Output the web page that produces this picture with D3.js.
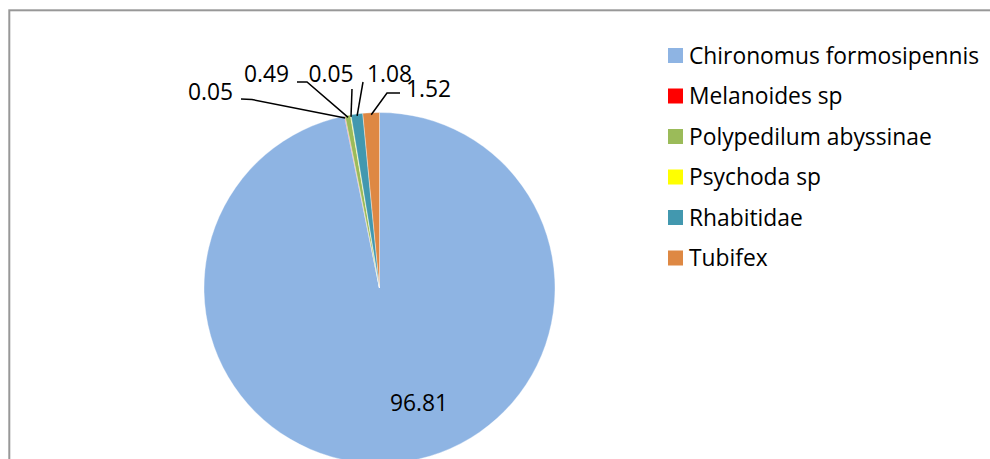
<!DOCTYPE html>
<html>
<head>
<meta charset="utf-8">
<script src="https://cdn.jsdelivr.net/npm/d3@7"></script>
<style>
  html, body { margin: 0; padding: 0; background: #fff; }
  svg { display: block; }
  text { font-family: "Open Sans", Lato, sans-serif; fill: #000; font-variant-ligatures: none; }
</style>
</head>
<body>
<svg id="chart" width="990" height="459"></svg>
<script>
// ---- data ----
const categories = ["Chironomus formosipennis", "Melanoides sp", "Polypedilum abyssinae", "Psychoda sp", "Rhabitidae", "Tubifex"];
const values = [96.81, 0.05, 0.49, 0.05, 1.08, 1.52];
const valueLabels = ["96.81", "0.05", "0.49", "0.05", "1.08", "1.52"];
const colors = ["#8EB4E3", "#FF0000", "#9BBB59", "#FFFF00", "#4298AF", "#DE8843"];

// ---- layout (label placement, not data) ----
const W = 990, H = 459;
const cx = 379.5, cy = 288, R = 175.5;
const fontSize = 22.8;
// label anchor (text center x, baseline y) and leader elbow points
const labelLayout = [
  { x: 419, y: 411, leader: null },
  { x: 210.5, y: 100, leader: [[241, 99], [252, 99.5]] },
  { x: 266.5, y: 82, leader: [[297, 82], [307, 82]] },
  { x: 331, y: 82, leader: [[352, 89]] },
  { x: 389.5, y: 82, leader: [[363, 82]] },
  { x: 428.5, y: 97, leader: [[400, 93], [387, 93]] }
];

const svg = d3.select("#chart");

// chart border
svg.append("rect")
  .attr("x", 9.3).attr("y", 10.3)
  .attr("width", 1100).attr("height", 600)
  .attr("fill", "none")
  .attr("stroke", "#989898")
  .attr("stroke-width", 2);

const data = categories.map((c, i) => ({ name: c, value: values[i], color: colors[i], label: valueLabels[i] }));

const pie = d3.pie().value(d => d.value).sort(null)
  .startAngle(0).endAngle(2 * Math.PI);
const arcs = pie(data);
const arc = d3.arc().innerRadius(0).outerRadius(R);

const g = svg.append("g").attr("transform", `translate(${cx},${cy})`);
g.selectAll("path.slice")
  .data(arcs)
  .join("path")
  .attr("class", "slice")
  .attr("d", arc)
  .attr("fill", d => d.data.color)
  .attr("stroke", "#ffffff")
  .attr("stroke-width", 0.6)
  .attr("stroke-opacity", 0.6);

// leader lines
arcs.forEach((a, i) => {
  const lay = labelLayout[i];
  if (!lay.leader) return;
  const mid = (a.startAngle + a.endAngle) / 2;
  const ex = cx + (R - 2) * Math.sin(mid);
  const ey = cy - (R - 2) * Math.cos(mid);
  const pts = lay.leader.concat([[ex, ey]]);
  svg.append("path")
    .attr("d", d3.line()(pts))
    .attr("fill", "none")
    .attr("stroke", "#000")
    .attr("stroke-width", 1.5);
});

// value labels
svg.selectAll("text.val")
  .data(arcs)
  .join("text")
  .attr("class", "val")
  .attr("x", (d, i) => labelLayout[i].x)
  .attr("y", (d, i) => labelLayout[i].y)
  .attr("text-anchor", "middle")
  .attr("font-size", fontSize)
  .text(d => d.data.label);

// legend
const legY0 = 55.5, legStep = 40.5, legX = 668;
const leg = svg.append("g");
const items = leg.selectAll("g").data(data).join("g")
  .attr("transform", (d, i) => `translate(${legX},${legY0 + i * legStep})`);
items.append("rect")
  .attr("x", 0).attr("y", -7.5)
  .attr("width", 15).attr("height", 15)
  .attr("fill", d => d.color);
items.append("text")
  .attr("x", 21).attr("y", 8)
  .attr("font-size", fontSize)
  .text(d => d.name);
</script>
</body>
</html>
